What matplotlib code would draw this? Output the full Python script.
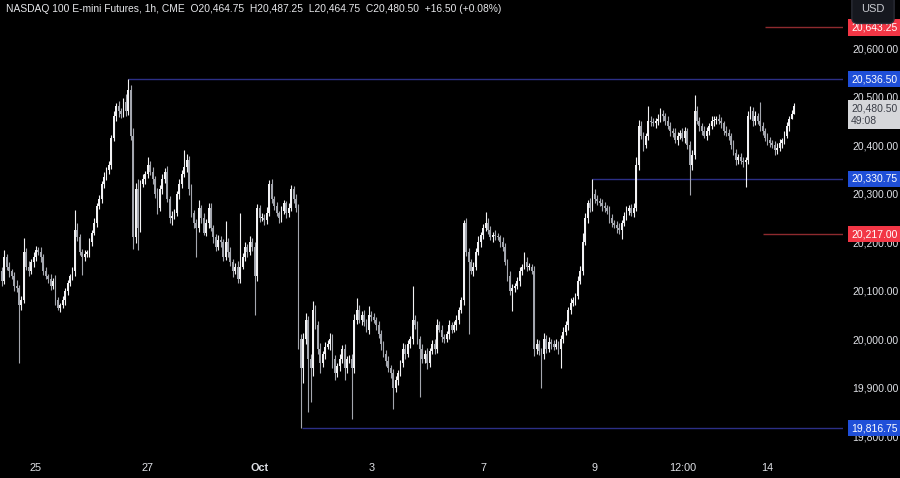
import matplotlib
matplotlib.use('Agg')

import matplotlib.pyplot as plt
import matplotlib.transforms as mtransforms
import numpy as np

plt.rcParams['font.family'] = ['Liberation Sans', 'DejaVu Sans']

# ---------- data (1h bars) ----------
first_open = 20140
closes = [
    20120, 20170, 20150, 20140, 20130, 20110, 20105, 20070, 20080, 20180, 20150, 20140, 20160, 20170, 20185, 20180, 20170, 20140, 20130, 20125,
    20110, 20120, 20080, 20065, 20070, 20080, 20100, 20115, 20130, 20140, 20225, 20210, 20180, 20170, 20175, 20180, 20200, 20220, 20240, 20275,
    20290, 20320, 20335, 20350, 20360, 20415, 20460, 20480, 20470, 20465, 20490, 20470, 20515, 20420, 20210, 20310, 20230, 20320, 20330, 20340,
    20360, 20345, 20330, 20300, 20270, 20310, 20330, 20345, 20290, 20250, 20255, 20260, 20300, 20320, 20340, 20355, 20370, 20310, 20260, 20240,
    20230, 20270, 20250, 20220, 20240, 20270, 20230, 20210, 20190, 20205, 20200, 20170, 20200, 20180, 20160, 20140, 20150, 20125, 20150, 20170,
    20190, 20180, 20200, 20190, 20130, 20270, 20250, 20250, 20245, 20260, 20320, 20290, 20275, 20260, 20250, 20265, 20280, 20260, 20270, 20310,
    20290, 20270, 20000, 19940, 20000, 20040, 19960, 19940, 20060, 20030, 19980, 19950, 19970, 19985, 19990, 20000, 19960, 19930, 19945, 19960,
    19980, 19940, 19960, 19960, 19940, 20040, 20060, 20040, 20050, 20035, 20020, 20050, 20045, 20040, 20030, 20010, 19990, 19970, 19955, 19940,
    19930, 19900, 19915, 19930, 19950, 19980, 19970, 19990, 20000, 20040, 20030, 20000, 19980, 19960, 19970, 19950, 19975, 19990, 19980, 20030,
    20020, 20005, 20000, 20010, 20030, 20020, 20030, 20040, 20060, 20080, 20240, 20180, 20160, 20140, 20150, 20180, 20200, 20215, 20230, 20240,
    20225, 20210, 20215, 20212, 20210, 20200, 20190, 20160, 20130, 20100, 20105, 20110, 20120, 20140, 20150, 20160, 20150, 20150, 20140, 19980,
    19990, 19975, 19970, 20000, 19980, 19995, 19990, 19985, 19990, 19980, 20000, 20015, 20030, 20060, 20075, 20080, 20090, 20120, 20140, 20200,
    20250, 20280, 20270, 20300, 20290, 20285, 20280, 20275, 20270, 20265, 20250, 20240, 20235, 20230, 20225, 20240, 20255, 20265, 20270, 20260,
    20270, 20360, 20440, 20420, 20400, 20420, 20450, 20448, 20445, 20450, 20455, 20465, 20460, 20450, 20440, 20430, 20425, 20410, 20420, 20425,
    20415, 20430, 20400, 20360, 20380, 20470, 20450, 20440, 20430, 20420, 20430, 20440, 20450, 20452, 20455, 20450, 20445, 20430, 20425, 20420,
    20400, 20385, 20370, 20375, 20368, 20365, 20370, 20460, 20470, 20450, 20460, 20450, 20440, 20430, 20415, 20410, 20405, 20400, 20390, 20395,
    20405, 20410, 20420, 20440, 20455, 20464.75, 20480.50,
]
# wick length above / below the body, in points
upper_wick = [
    8, 15, 6, 10, 5, 8, 12, 6, 10, 28, 8, 12, 6, 10, 8, 5, 10, 6, 8, 5,
    10, 6, 12, 8, 5, 10, 6, 8, 5, 10, 42, 15, 8, 6, 10, 5, 8, 6, 10, 5,
    8, 6, 10, 5, 8, 6, 10, 8, 12, 6, 8, 15, 21.5, 10, 15, 12, 20, 8, 10, 6,
    15, 8, 10, 6, 12, 8, 10, 8, 12, 6, 10, 8, 6, 10, 8, 35, 12, 8, 10, 6,
    8, 18, 6, 10, 8, 10, 12, 6, 8, 10, 8, 6, 43, 8, 10, 6, 8, 12, 110, 8,
    10, 6, 12, 8, 10, 8, 6, 10, 8, 12, 9, 10, 6, 8, 5, 10, 8, 6, 10, 8,
    6, 10, 8, 10, 12, 15, 8, 10, 18, 10, 8, 12, 6, 10, 8, 12, 10, 8, 6, 10,
    8, 10, 6, 8, 10, 12, 25, 10, 8, 10, 6, 18, 8, 10, 6, 8, 10, 6, 8, 10,
    6, 8, 10, 6, 8, 12, 10, 8, 6, 69, 10, 8, 6, 10, 8, 12, 6, 8, 10, 12,
    8, 10, 6, 8, 10, 6, 8, 10, 6, 8, 5, 10, 8, 6, 10, 8, 12, 6, 8, 23,
    10, 8, 6, 10, 8, 6, 10, 8, 6, 10, 8, 6, 8, 10, 6, 20, 10, 8, 6, 12,
    10, 8, 6, 12, 8, 10, 6, 8, 10, 6, 8, 10, 8, 6, 10, 8, 6, 10, 12, 20,
    10, 8, 12, 30.75, 10, 8, 6, 10, 8, 6, 10, 8, 6, 8, 10, 6, 8, 10, 6, 8,
    10, 15, 12, 10, 8, 6, 30, 10, 8, 6, 10, 12, 8, 6, 10, 8, 6, 10, 8, 6,
    10, 8, 6, 8, 10, 34, 12, 8, 6, 10, 8, 6, 10, 8, 6, 10, 8, 6, 10, 8,
    6, 10, 8, 6, 10, 8, 6, 10, 12, 8, 10, 6, 40, 8, 6, 10, 8, 6, 8, 10,
    8, 6, 10, 8, 6, 8, 6.75,
]
lower_wick = [
    10, 6, 8, 12, 6, 10, 8, 120, 10, 6, 8, 10, 6, 12, 8, 6, 10, 8, 6, 10,
    8, 6, 10, 4, 8, 6, 10, 8, 6, 8, 10, 8, 6, 37, 8, 6, 10, 8, 6, 8,
    6, 10, 8, 6, 10, 8, 6, 10, 12, 8, 6, 10, 8, 10, 23, 12, 45, 8, 6, 10,
    8, 6, 10, 8, 12, 6, 10, 8, 6, 10, 14, 8, 6, 10, 8, 6, 10, 12, 8, 10,
    60, 8, 10, 6, 8, 10, 6, 12, 8, 6, 10, 8, 6, 10, 8, 12, 6, 10, 8, 6,
    8, 10, 6, 8, 80, 10, 8, 6, 10, 8, 6, 10, 8, 6, 10, 8, 6, 10, 8, 6,
    10, 8, 20, 123.25, 30, 10, 110, 70, 15, 8, 10, 20, 8, 10, 6, 12, 20, 15, 8, 10,
    8, 25, 10, 8, 105, 10, 8, 6, 10, 8, 6, 10, 8, 6, 10, 8, 12, 6, 10, 8,
    10, 44, 8, 10, 6, 8, 10, 6, 8, 10, 8, 10, 100, 8, 10, 12, 8, 6, 10, 8,
    6, 10, 8, 6, 10, 8, 6, 10, 8, 6, 10, 8, 150, 6, 10, 8, 6, 10, 8, 6,
    8, 6, 10, 8, 6, 10, 8, 6, 10, 8, 42, 8, 6, 10, 8, 6, 10, 8, 6, 15,
    10, 8, 70, 10, 8, 6, 10, 8, 6, 10, 40, 8, 6, 10, 8, 6, 10, 8, 6, 8,
    6, 10, 8, 6, 10, 8, 6, 10, 8, 6, 10, 8, 6, 10, 8, 19, 6, 10, 8, 6,
    8, 6, 10, 8, 12, 6, 10, 8, 6, 10, 8, 6, 10, 8, 6, 10, 8, 6, 10, 8,
    6, 10, 8, 62, 10, 8, 6, 10, 8, 6, 10, 8, 6, 10, 8, 6, 10, 8, 6, 10,
    8, 6, 10, 8, 6, 10, 50, 8, 6, 10, 8, 6, 10, 8, 6, 10, 8, 6, 10, 8,
    6, 10, 8, 6, 10, 0, 0,
]
assert len(closes) == len(upper_wick) == len(lower_wick), (len(closes), len(upper_wick), len(lower_wick))

xtick_pos = [14, 60, 106, 152, 198, 244, 280, 315]
xtick_labels = ['25', '27', 'Oct', '3', '7', '9', '12:00', '14']
ytick_vals = [19800, 19900, 20000, 20100, 20200, 20300, 20400, 20500, 20600]

# horizontal levels drawn on the chart
level_prices = [20643.25, 20536.50, 20330.75, 20217.00, 19816.75]
level_start = [314, 52, 243, 313, 123.5]
level_kind = ['red', 'blue', 'blue', 'red', 'blue']

last_price = 20480.50
countdown = '49:08'
title = ('NASDAQ 100 E-mini Futures, 1h, CME  O20,464.75  H20,487.25  '
         'L20,464.75  C20,480.50  +16.50 (+0.08%)')

# ---------- candles ----------
c = np.array(closes, dtype=float)
o = np.concatenate([[first_open], c[:-1]])
body_hi = np.maximum(o, c)
body_lo = np.minimum(o, c)
hi = body_hi + np.array(upper_wick)
lo = body_lo - np.array(lower_wick)
x = np.arange(len(c))
up = c >= o
col = np.where(up, '#f2f2f4', '#a4a7af')

fig = plt.figure(figsize=(9, 4.78), dpi=100, facecolor='black')
ax = fig.add_axes([0, 23 / 478, 843 / 900, 455 / 478])
ax.set_facecolor('black')

ax.vlines(x, lo, hi, colors=col, linewidth=0.8, zorder=2)
ax.bar(x, np.maximum(body_hi - body_lo, 1.5), bottom=body_lo, width=0.74,
       color=col, linewidth=0, zorder=2.2)

ax.set_xlim(-0.8, 346.1)
ax.set_ylim(19761.3, 20699.6)

line_col = {'red': '#8e2a2e', 'blue': '#2c2f86'}
box_col = {'red': '#f23645', 'blue': '#1f4fd8'}
for p, s, k in zip(level_prices, level_start, level_kind):
    ax.hlines(p, s, 346.1, colors=line_col[k], linewidth=1.0, zorder=1.5)

# ---------- axes / labels ----------
for sp in ax.spines.values():
    sp.set_visible(False)
ax.yaxis.tick_right()
ax.set_yticks(ytick_vals)
ax.set_yticklabels([f'{v:,.2f}' for v in ytick_vals])
ax.tick_params(axis='y', length=0, pad=6.5, labelsize=7.5, labelcolor='#dfe1e6')
ax.set_xticks(xtick_pos)
ax.set_xticklabels(xtick_labels)
ax.tick_params(axis='x', length=0, pad=6, labelsize=7.8, labelcolor='#dfe1e6')
for lbl in ax.get_xticklabels():
    if lbl.get_text() == 'Oct':
        lbl.set_fontweight('bold')

trans = mtransforms.blended_transform_factory(ax.transAxes, ax.transData)
for p, k in zip(level_prices, level_kind):
    ax.text(1.0095, p, f'{p:,.2f}', transform=trans, ha='left', va='center',
            fontsize=7.5, color='white', zorder=5, clip_on=False,
            bbox=dict(boxstyle='square,pad=0.32', fc=box_col[k], ec='none'))

ax.text(1.0095, last_price + 6, f'{last_price:,.2f}\n{countdown}', transform=trans,
        ha='left', va='top', fontsize=7.5, color='#3a3d46', zorder=5, clip_on=False,
        linespacing=1.35,
        bbox=dict(boxstyle='square,pad=0.32', fc='#d6d7da', ec='none'))

fig.text(6 / 900, 1 - 9.5 / 478, title, ha='left', va='center', fontsize=7.4,
         color='#e6e7ea')
fig.text(873 / 900, 1 - 9 / 478, 'USD', ha='center', va='center', fontsize=8,
         color='#c9cbd1', zorder=10,
         bbox=dict(boxstyle='round,pad=0.85,rounding_size=0.5', fc='#16181f', ec='#2a2d36'))

fig.savefig('out.png', dpi=100, facecolor='black')
